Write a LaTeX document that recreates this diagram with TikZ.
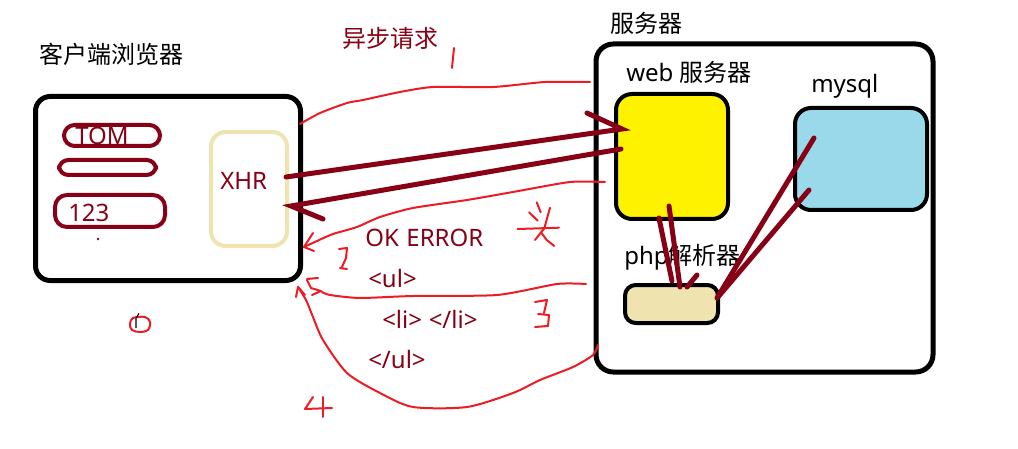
\documentclass[tikz,border=0pt]{standalone}
\usepackage{fontspec}
\setmainfont{Noto Sans}
\newfontfamily\cjk{Noto Sans CJK SC}
\usetikzlibrary{fit}
\definecolor{dred}{RGB}{136,0,21}
\definecolor{pred}{RGB}{237,28,36}
\definecolor{beige}{RGB}{239,228,176}
\definecolor{ylw}{RGB}{255,242,0}
\definecolor{lblue}{RGB}{153,217,234}
\begin{document}
\begin{tikzpicture}[x=0.75pt,y=-0.75pt,
  txt/.style={inner sep=0, font=\fontsize{18}{20}\selectfont},
  rtxt/.style={txt, text=dred},
  blk/.style={draw=black, line width=3.75pt, inner sep=0},
  fld/.style={draw=dred, line width=3pt, inner sep=0},
  wire/.style={draw=dred, line width=3.75pt, line cap=round},
  pen/.style={draw=pred, line width=1.5pt, line cap=round, line join=round},
]
\useasboundingbox[fill=white] (0,0) rectangle (1018,449);

% ---------- client ----------
\node[txt] (ctitle) at (112,54) {\cjk 客户端浏览器};
\node[blk, rounded corners=11pt, fit={(35.5,96.5)(300.5,280.5)}] (client) {};
\node[rtxt, anchor=base west] (tomt) at (75,145) {TOM};
\node[fld, rounded corners=8pt, fit={(64,125)(160,146)}] (tom) {};
\node[fld, rounded corners=7pt, fit={(59,160)(156,175)}] (empty) {};
\node[fld, rounded corners=9pt, fit={(55,195)(165,227)}] (num) {};
\node[rtxt, anchor=base west] (numt) at (68,222) {123};
\fill[dred] (98,239) circle (1.1pt);
\node[draw=beige, line width=3pt, inner sep=0, rounded corners=11pt, fit={(211,132)(287,246)}] (xhr) {};
\node[rtxt, anchor=base west] (xhrt) at (220,190) {XHR};

% ---------- server ----------
\node[txt] (stitle) at (646,23) {\cjk 服务器};
\node[blk, rounded corners=13pt, fit={(596,44)(933,372)}] (server) {};
\node[txt, anchor=base west] (webt) at (626,82) {web \cjk 服务器};
\node[blk, fill=ylw, line width=3pt, rounded corners=12pt, fit={(616,94)(728,219)}] (web) {};
\node[txt, anchor=base west] (mysqlt) at (811,93) {mysql};
\node[blk, fill=lblue, line width=3pt, rounded corners=12pt, fit={(795,108)(927,210)}] (mysql) {};
\node[txt, anchor=base west] (phpt) at (624,265) {php\cjk 解析器};
\node[blk, fill=beige, line width=3pt, rounded corners=8pt, fit={(625,285)(718,323)}] (php) {};

% ---------- labels ----------
\node[txt, text=dred] (async) at (390,38) {\cjk 异步请求};
\node[rtxt, anchor=base west] (ok) at (365,247) {OK\kern1pt{} ERROR};
\node[rtxt, anchor=base west] (ul) at (368,287) {<ul>};
\node[rtxt, anchor=base west] (li) at (382,328) {<li>\kern5pt{}</li>};
\node[rtxt, anchor=base west] (eul) at (368,368) {</ul>};

% ---------- thick connectors ----------
\coordinate (a1) at (286,177);
\coordinate (a2) at (622,129);
\coordinate (ah) at (587,113);
\coordinate (b1) at (621,149);
\coordinate (b2) at (291,206);
\coordinate (bh) at (323,219);
\draw[wire] (a1) -- (a2) -- (ah);
\draw[wire] (b1) -- (b2) -- (bh);
\coordinate (w1) at (669,206); \coordinate (p1) at (680,287);
\coordinate (w2) at (659,218); \coordinate (p2) at (672,281);
\coordinate (p3) at (697,275); \coordinate (p4) at (687,287);
\coordinate (m1) at (814,138); \coordinate (p5) at (717,298);
\coordinate (m2) at (809,190); \coordinate (p6) at (718,297);
\draw[wire] (w1) -- (p1);
\draw[wire] (w2) -- (p2);
\draw[wire] (p3) -- (p4);
\draw[wire] (m1) -- (p5);
\draw[wire] (m2) -- (p6);

% ---------- red hand-drawn curves ----------
\coordinate (r1s) at (590,82);
\coordinate (r1e) at (300,124);
\draw[pen] plot[smooth, tension=0.4] coordinates {(r1s) (545,82) (493,87) (433,87) (400,92) (363,100) (347,103) (320,113) (r1e)};
\draw[pen] (454,48) -- (452,68);

\coordinate (r2s) at (605,182);
\coordinate (r2e) at (304,247);
\draw[pen] plot[smooth, tension=0.4] coordinates {(r2s) (570,182) (513,192) (467,200) (413,208) (380,217) (357,227) (333,234) (317,241) (r2e)};
\draw[pen] (313,233) -- (r2e) -- (314,251);
\draw[pen] (339,249) -- (347,248) -- (346,258) -- (342,267);
\draw[pen] (340,268) -- (347,269);
% hand-drawn glyph
\draw[pen] (536.7,202.3) -- (540.7,212.3);
\draw[pen] (529,212.3) -- (537.7,220.7);
\draw[pen] (550,207.7) -- (544.3,228.3) -- (535,240);
\draw[pen] (517.7,229) -- (559,227.7);
\draw[pen] (541,232.3) -- (546.7,240) -- (554.3,246);

\coordinate (r3s) at (586,284);
\coordinate (r3e) at (322,292);
\draw[pen] plot[smooth, tension=0.4] coordinates {(r3s) (557,284) (497,295) (413,296) (360,298) (330,295) (r3e)};
\draw[pen] (307,279) -- (318,278);
\draw[pen] (307,280) -- (311,288) -- (321,291) -- (312,295);
\draw[pen] (535,302) -- (547,300) -- (544,313);
\draw[pen] (538,314) -- (549,315) -- (548,326) -- (535,327);

\coordinate (r4s) at (598,345);
\coordinate (r4e) at (298,287);
\draw[pen] plot[smooth, tension=0.45] coordinates {(r4s) (593,355) (573,367) (540,380) (513,393) (467,407) (413,407) (380,393) (347,373) (323,340) (313,317) (306,300) (r4e)};
\draw[pen] (296,297) -- (r4e) -- (305,295);
\draw[pen] (313,397) -- (305,409) -- (332,408);
\draw[pen] (323,397) -- (323,417);

\draw[pen] plot[smooth cycle, tension=0.6] coordinates {(133,318) (145,317) (150,322) (148,330) (140,332) (132,330) (130,324)};
\draw[black, line width=0.8pt] (139,313.3) -- (136,318.3) -- (136,328);
\end{tikzpicture}
\end{document}
